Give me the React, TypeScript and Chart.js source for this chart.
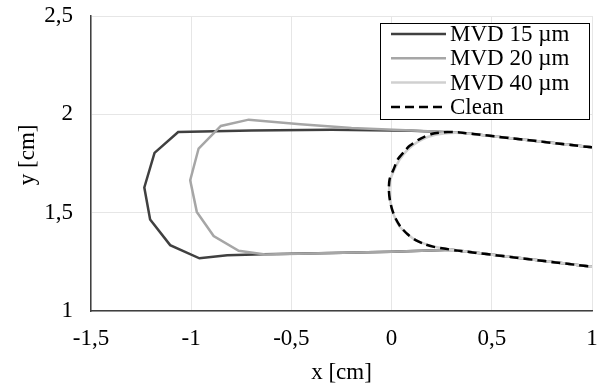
import React, { useEffect, useRef } from 'react';
import { Chart, registerables } from 'chart.js';

Chart.register(...registerables);

// ---- data ----
const seriesLabels = ['MVD 15 µm', 'MVD 20 µm', 'MVD 40 µm', 'Clean'];
const seriesColors = ['#404040', '#a6a6a6', '#d0d0d0', '#000000'];

const mvd15X = [1.0, 0.345, 0.1, -0.3, -0.7, -1.065, -1.183, -1.234, -1.205, -1.105, -0.959, -0.82, -0.64, -0.3, 0.0, 0.3, 1.0];
const mvd15Y = [1.832, 1.907, 1.917, 1.921, 1.918, 1.91, 1.804, 1.628, 1.465, 1.335, 1.268, 1.284, 1.288, 1.295, 1.301, 1.311, 1.225];

const mvd20X = [1.0, 0.345, 0.1, -0.2, -0.455, -0.713, -0.852, -0.963, -1.005, -0.972, -0.888, -0.763, -0.63, -0.3, 0.0, 0.3, 1.0];
const mvd20Y = [1.832, 1.907, 1.918, 1.93, 1.949, 1.973, 1.941, 1.826, 1.665, 1.504, 1.381, 1.306, 1.287, 1.295, 1.301, 1.311, 1.225];

const mvd40X = [1.0, 0.345, 0.26, 0.18, 0.13, 0.08, 0.04, 0.01, -0.008, -0.012, -0.005, 0.01, 0.04, 0.08, 0.12, 0.17, 0.22, 0.3, 1.0];
const mvd40Y = [1.832, 1.905, 1.902, 1.885, 1.86, 1.82, 1.77, 1.71, 1.66, 1.61, 1.55, 1.49, 1.43, 1.39, 1.36, 1.34, 1.325, 1.311, 1.225];

const cleanX = [1.0, 0.345, 0.28, 0.2, 0.145, 0.09, 0.0615, 0.03, 0.0115, -0.01, -0.0135, -0.008, 0.0035, 0.02, 0.045, 0.08, 0.12, 0.165, 0.2115, 0.27, 0.33, 1.0];
const cleanY = [1.832, 1.907, 1.91, 1.9, 1.877, 1.84, 1.809, 1.77, 1.724, 1.67, 1.614, 1.56, 1.513, 1.47, 1.428, 1.39, 1.36, 1.34, 1.326, 1.316, 1.307, 1.225];

const xTicks = [-1.5, -1, -0.5, 0, 0.5, 1];
const yTicks = [1, 1.5, 2, 2.5];

const FONT = '"Liberation Serif", "Times New Roman", serif';

const pts = (xs: number[], ys: number[]) => xs.map((x, i) => ({ x, y: ys[i] }));
const fmt = (v: number) => String(v).replace('.', ',');

const boxLegend = {
  id: 'boxLegend',
  afterDraw(chart: any) {
    const { ctx, chartArea } = chart;
    const x0 = chartArea.right - 212;
    const y0 = chartArea.top + 7;
    const w = 209;
    const h = 96;
    ctx.save();
    ctx.fillStyle = '#ffffff';
    ctx.fillRect(x0, y0, w, h);
    ctx.strokeStyle = '#000000';
    ctx.lineWidth = 1;
    ctx.strokeRect(x0 + 0.5, y0 + 0.5, w, h);
    chart.data.datasets.forEach((ds: any, i: number) => {
      const cy = y0 + 11 + i * 24.3;
      ctx.beginPath();
      ctx.setLineDash(ds.borderDash || []);
      ctx.strokeStyle = ds.borderColor;
      ctx.lineWidth = ds.borderWidth;
      ctx.moveTo(x0 + 11, cy);
      ctx.lineTo(x0 + 66, cy);
      ctx.stroke();
      ctx.setLineDash([]);
      ctx.fillStyle = '#000000';
      ctx.font = `23px ${FONT}`;
      ctx.textBaseline = 'middle';
      ctx.textAlign = 'left';
      ctx.fillText(ds.label, x0 + 70, cy + 1);
    });
    ctx.restore();
  },
};

export default function App() {
  const ref = useRef<HTMLCanvasElement>(null);
  useEffect(() => {
    const chart = new Chart(ref.current!, {
      type: 'scatter',
      data: {
        datasets: [
          { label: seriesLabels[0], data: pts(mvd15X, mvd15Y), borderColor: seriesColors[0], borderWidth: 2.5, order: 4, tension: 0 },
          { label: seriesLabels[1], data: pts(mvd20X, mvd20Y), borderColor: seriesColors[1], borderWidth: 2.5, order: 3, tension: 0 },
          { label: seriesLabels[2], data: pts(mvd40X, mvd40Y), borderColor: seriesColors[2], borderWidth: 2.5, order: 2, tension: 0.25 },
          { label: seriesLabels[3], data: pts(cleanX, cleanY), borderColor: seriesColors[3], borderWidth: 2.5, borderDash: [9, 5], order: 1, tension: 0.25 },
        ].map((d) => ({ ...d, showLine: true, pointRadius: 0, fill: false, backgroundColor: d.borderColor })) as any,
      },
      options: {
        animation: false,
        responsive: true,
        maintainAspectRatio: false,
        devicePixelRatio: 1,
        layout: { padding: { left: 0, top: 16, right: 8, bottom: 0 } },
        plugins: { legend: { display: false }, tooltip: { enabled: false } },
        scales: {
          x: {
            type: 'linear',
            min: xTicks[0],
            max: xTicks[xTicks.length - 1],
            afterBuildTicks: (s: any) => { s.ticks = xTicks.map((v) => ({ value: v })); },
            afterFit: (s: any) => { s.height = 78; s.paddingLeft = 0; s.paddingRight = 0; },
            ticks: { callback: (v: any) => fmt(v), font: { family: FONT, size: 23 }, color: '#000', padding: 14, maxRotation: 0 },
            grid: { color: '#e6e6e6', lineWidth: 1, drawTicks: false },
            border: { display: true, color: '#404040', width: 1.5 },
            title: { display: true, text: 'x [cm]', font: { family: FONT, size: 23 }, color: '#000', padding: { top: 0, bottom: 2 } },
          },
          y: {
            type: 'linear',
            min: yTicks[0],
            max: yTicks[yTicks.length - 1],
            afterBuildTicks: (s: any) => { s.ticks = yTicks.map((v) => ({ value: v })); },
            afterFit: (s: any) => { s.width = 91; s.paddingTop = 0; s.paddingBottom = 0; },
            ticks: { callback: (v: any) => fmt(v), font: { family: FONT, size: 23 }, color: '#000', padding: 18 },
            grid: { color: '#e6e6e6', lineWidth: 1, drawTicks: false },
            border: { display: true, color: '#404040', width: 1.5 },
            title: { display: true, text: '   y [cm]', font: { family: FONT, size: 23 }, color: '#000', padding: { top: 14, bottom: 0 } },
          },
        },
      },
      plugins: [boxLegend],
    });
    return () => chart.destroy();
  }, []);
  return (
    <div style={{ position: 'fixed', left: 0, top: 0, width: 600, height: 389, background: '#fff' }}>
      <canvas ref={ref} />
    </div>
  );
}
